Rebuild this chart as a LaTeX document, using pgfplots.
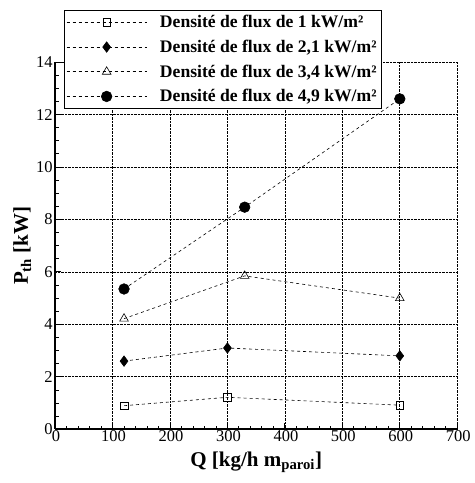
\documentclass[border={10pt 7pt 1pt 10pt}]{standalone}
\usepackage{fontspec}
\setmainfont{Liberation Serif}
\usepackage{pgfplots}
\pgfplotsset{compat=1.18}
\begin{document}
\begin{tikzpicture}
\begin{axis}[
  scale only axis, width=402pt, height=367pt,
  xmin=0, xmax=700, ymin=0, ymax=14,
  xtick={0,100,...,700}, ytick={0,2,...,14},
  xticklabels={0,100,200,300,400,500,600,700},
  yticklabels={0,2,4,6,8,10,12,14},
  minor x tick num=4, minor y tick num=3,
  tick align=inside,
  axis x line*=bottom, axis y line*=left,
  axis line style={line width=1.6pt,-},
  grid=major,
  major grid style={densely dotted, black, line width=0.7pt},
  major tick length=6pt, minor tick length=3.5pt,
  tick style={black, line width=0.9pt},
  ticklabel style={font=\rmfamily\fontsize{16.5}{16.5}\selectfont},
  xticklabel style={yshift=2pt, xshift=1pt},
  yticklabel style={xshift=1pt},
  xlabel={\textbf{Q [kg/h m\textsubscript{paroi}]}},
  ylabel={\textbf{P\textsubscript{th} [kW]}},
  xlabel style={yshift=-3pt},
  ylabel style={yshift=-2pt},
  label style={font=\rmfamily\fontsize{21}{23}\selectfont},
  legend cell align=left,
  legend style={at={(rel axis cs:0.022,1.142)}, anchor=north west,
    draw=black, line width=0.8pt, fill=white,
    font=\rmfamily\bfseries\fontsize{17.6}{19}\selectfont,
    row sep=6.8pt, inner xsep=2pt, inner ysep=3pt,
    nodes={inner xsep=3pt}},
  legend image code/.code={\draw[mark repeat=2,mark phase=2,#1] plot coordinates {(0pt,0pt) (40pt,0pt) (80pt,0pt)};\path (90pt,0pt);},
  every axis plot/.append style={black, dashed, line width=0.6pt},
]
\addplot[mark=square, mark size=3.8pt, mark options={solid, fill=white, line width=0.6pt}] coordinates {(120,0.9) (300,1.22) (600,0.92)};
\addlegendentry{Densité de flux de 1 kW/m²}
\addplot[mark=diamond*, mark size=5.2pt, mark options={solid, fill=black}] coordinates {(120,2.6) (300,3.1) (600,2.8)};
\addlegendentry{Densité de flux de 2,1 kW/m²}
\addplot[mark=triangle, mark size=5pt, mark options={solid, fill=white, line width=0.6pt}] coordinates {(120,4.22) (330,5.85) (600,5.0)};
\addlegendentry{Densité de flux de 3,4 kW/m²}
\addplot[mark=*, mark size=5.3pt, mark options={solid, fill=black}] coordinates {(120,5.35) (330,8.47) (600,12.6)};
\addlegendentry{Densité de flux de 4,9 kW/m²}
\end{axis}
\end{tikzpicture}
\end{document}
